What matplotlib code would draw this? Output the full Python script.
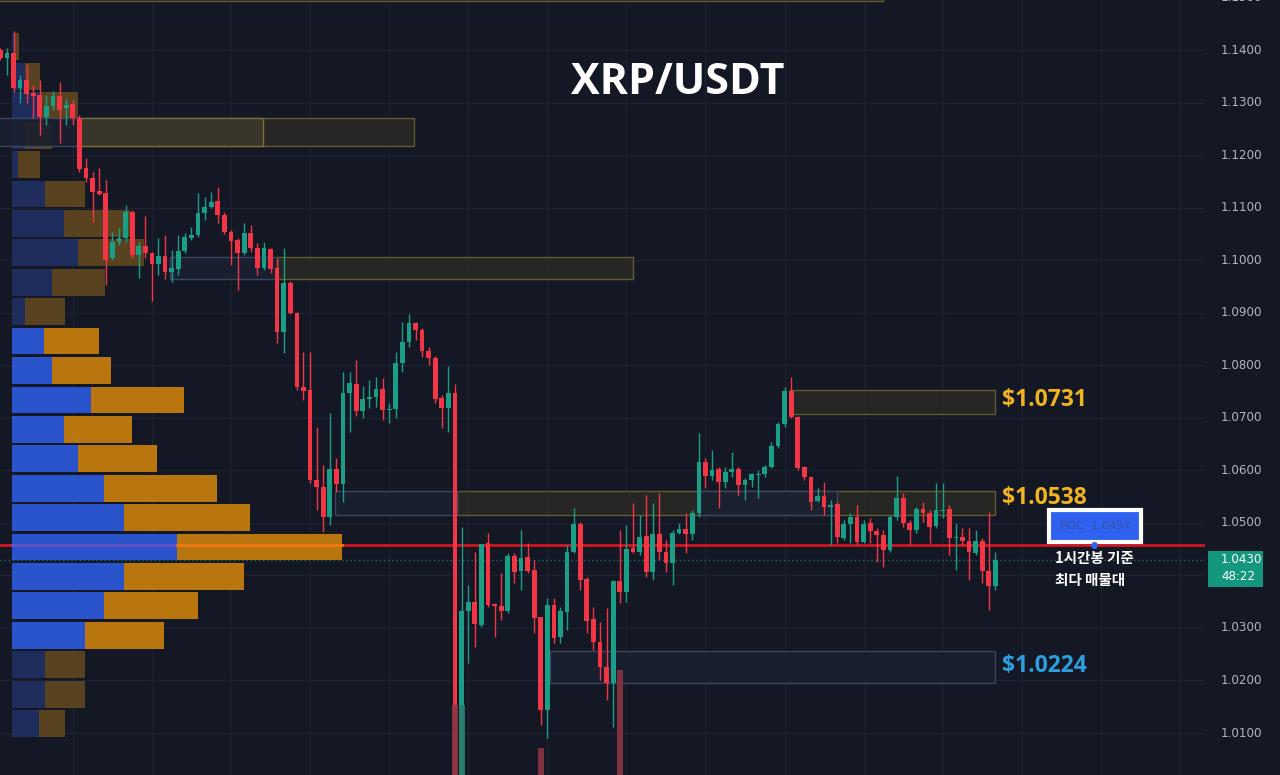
import matplotlib
matplotlib.use("Agg")
import matplotlib.pyplot as plt
import matplotlib.transforms as mtransforms
from matplotlib.patches import Rectangle

# ---------------- data ----------------
opens = [1.1400, 1.1385, 1.1394, 1.1328, 1.1343, 1.1318, 1.1314, 1.1273, 1.1293, 1.1312,
         1.1290, 1.1297, 1.1271, 1.1175, 1.1156, 1.1132, 1.1128, 1.1004, 1.1035, 1.1042,
         1.1092, 1.1010, 1.1027, 1.1014, 1.0993, 1.1008, 1.0977, 1.0983, 1.1017, 1.1042,
         1.1048, 1.1090, 1.1101, 1.1113, 1.1086, 1.1054, 1.1038, 1.1014, 1.1052, 1.1023,
         1.0985, 1.1021, 1.0985, 1.0863, 1.0957, 1.0899, 1.0759, 1.0753, 1.0582, 1.0568,
         1.0511, 1.0603, 1.0574, 1.0747, 1.0764, 1.0713, 1.0736, 1.0740, 1.0755, 1.0715,
         1.0717, 1.0804, 1.0844, 1.0880, 1.0867, 1.0827, 1.0814, 1.0738, 1.0719, 1.0747,
         0.9920, 1.0332, 1.0349, 1.0306, 1.0462, 1.0346, 1.0342, 1.0332, 1.0437, 1.0408,
         1.0435, 1.0410, 1.0321, 1.0144, 1.0344, 1.0283, 1.0330, 1.0445, 1.0498, 1.0393,
         1.0317, 1.0273, 1.0226, 1.0195, 1.0389, 1.0368, 1.0452, 1.0445, 1.0475, 1.0406,
         1.0479, 1.0445, 1.0424, 1.0481, 1.0488, 1.0479, 1.0519, 1.0616, 1.0589, 1.0603,
         1.0578, 1.0597, 1.0603, 1.0572, 1.0582, 1.0591, 1.0593, 1.0606, 1.0646, 1.0688,
         1.0751, 1.0702, 1.0606, 1.0587, 1.0542, 1.0551, 1.0530, 1.0536, 1.0471, 1.0498,
         1.0511, 1.0464, 1.0500, 1.0485, 1.0477, 1.0448, 1.0511, 1.0547, 1.0500, 1.0486,
         1.0526, 1.0519, 1.0494, 1.0523, 1.0526, 1.0471, 1.0473, 1.0465, 1.0443, 1.0465,
         1.0408, 1.0380]
highs = [1.1404, 1.1404, 1.1436, 1.1352, 1.1373, 1.1333, 1.1343, 1.1314, 1.1322, 1.1339,
         1.1307, 1.1305, 1.1276, 1.1194, 1.1168, 1.1175, 1.1153, 1.1054, 1.1061, 1.1105,
         1.1096, 1.1035, 1.1084, 1.1016, 1.1042, 1.1048, 1.1019, 1.1048, 1.1052, 1.1063,
         1.1128, 1.1120, 1.1130, 1.1139, 1.1092, 1.1057, 1.1042, 1.1071, 1.1067, 1.1033,
         1.1035, 1.1023, 1.1004, 1.1023, 1.0960, 1.0901, 1.0825, 1.0825, 1.0682, 1.0610,
         1.0709, 1.0624, 1.0787, 1.0787, 1.0810, 1.0761, 1.0772, 1.0778, 1.0776, 1.0728,
         1.0825, 1.0882, 1.0898, 1.0882, 1.0871, 1.0835, 1.0818, 1.0743, 1.0799, 1.0764,
         1.0492, 1.0382, 1.0445, 1.0460, 1.0481, 1.0348, 1.0405, 1.0443, 1.0443, 1.0486,
         1.0462, 1.0429, 1.0321, 1.0357, 1.0357, 1.0340, 1.0458, 1.0528, 1.0502, 1.0397,
         1.0340, 1.0311, 1.0338, 1.0391, 1.0486, 1.0496, 1.0538, 1.0515, 1.0553, 1.0538,
         1.0557, 1.0467, 1.0486, 1.0500, 1.0519, 1.0524, 1.0671, 1.0624, 1.0639, 1.0606,
         1.0606, 1.0635, 1.0606, 1.0585, 1.0595, 1.0601, 1.0610, 1.0654, 1.0692, 1.0759,
         1.0778, 1.0703, 1.0608, 1.0589, 1.0566, 1.0578, 1.0544, 1.0540, 1.0505, 1.0519,
         1.0534, 1.0505, 1.0509, 1.0490, 1.0486, 1.0515, 1.0589, 1.0557, 1.0505, 1.0530,
         1.0540, 1.0524, 1.0576, 1.0576, 1.0534, 1.0500, 1.0490, 1.0490, 1.0486, 1.0471,
         1.0521, 1.0445]
lows = [1.1381, 1.1352, 1.1320, 1.1299, 1.1299, 1.1271, 1.1238, 1.1257, 1.1286, 1.1223,
        1.1257, 1.1257, 1.1168, 1.1149, 1.1073, 1.1124, 1.0953, 1.1000, 1.1029, 1.1035,
        1.1004, 1.0966, 1.1004, 1.0922, 1.0972, 1.0964, 1.0958, 1.0972, 1.1014, 1.1038,
        1.1044, 1.1076, 1.1099, 1.1071, 1.1050, 1.0991, 1.0943, 1.1010, 1.1016, 1.0972,
        1.0981, 1.0976, 1.0842, 1.0823, 1.0898, 1.0753, 1.0734, 1.0576, 1.0524, 1.0483,
        1.0496, 1.0559, 1.0540, 1.0673, 1.0703, 1.0700, 1.0719, 1.0721, 1.0696, 1.0690,
        1.0700, 1.0787, 1.0835, 1.0848, 1.0816, 1.0800, 1.0728, 1.0681, 1.0673, 0.9850,
        0.9850, 1.0233, 1.0264, 1.0302, 1.0340, 1.0283, 1.0315, 1.0328, 1.0386, 1.0372,
        1.0405, 1.0290, 1.0115, 1.0091, 1.0271, 1.0271, 1.0296, 1.0443, 1.0372, 1.0290,
        1.0258, 1.0201, 1.0163, 1.0111, 1.0348, 1.0349, 1.0443, 1.0439, 1.0397, 1.0391,
        1.0429, 1.0406, 1.0382, 1.0479, 1.0443, 1.0467, 1.0511, 1.0566, 1.0582, 1.0528,
        1.0566, 1.0587, 1.0553, 1.0544, 1.0568, 1.0547, 1.0587, 1.0604, 1.0643, 1.0682,
        1.0700, 1.0601, 1.0582, 1.0524, 1.0540, 1.0515, 1.0458, 1.0462, 1.0467, 1.0462,
        1.0458, 1.0462, 1.0462, 1.0426, 1.0416, 1.0445, 1.0505, 1.0492, 1.0458, 1.0481,
        1.0502, 1.0462, 1.0490, 1.0509, 1.0439, 1.0410, 1.0458, 1.0391, 1.0439, 1.0386,
        1.0334, 1.0372]
closes = [1.1385, 1.1394, 1.1328, 1.1343, 1.1316, 1.1312, 1.1273, 1.1293, 1.1312, 1.1286,
          1.1295, 1.1271, 1.1174, 1.1156, 1.1130, 1.1126, 1.1000, 1.1035, 1.1042, 1.1092,
          1.1010, 1.1027, 1.1014, 1.0993, 1.1008, 1.0977, 1.0985, 1.1017, 1.1044, 1.1048,
          1.1090, 1.1101, 1.1111, 1.1086, 1.1054, 1.1036, 1.1014, 1.1052, 1.1023, 1.0985,
          1.1023, 1.0983, 1.0863, 1.0957, 1.0899, 1.0759, 1.0751, 1.0582, 1.0568, 1.0511,
          1.0603, 1.0574, 1.0747, 1.0766, 1.0713, 1.0736, 1.0740, 1.0755, 1.0715, 1.0717,
          1.0804, 1.0844, 1.0880, 1.0867, 1.0827, 1.0814, 1.0736, 1.0719, 1.0747, 0.9920,
          1.0332, 1.0349, 1.0308, 1.0460, 1.0344, 1.0342, 1.0332, 1.0437, 1.0406, 1.0433,
          1.0408, 1.0319, 1.0144, 1.0344, 1.0281, 1.0332, 1.0445, 1.0498, 1.0391, 1.0313,
          1.0273, 1.0226, 1.0195, 1.0389, 1.0368, 1.0450, 1.0445, 1.0473, 1.0406, 1.0479,
          1.0445, 1.0424, 1.0481, 1.0488, 1.0479, 1.0519, 1.0616, 1.0589, 1.0601, 1.0578,
          1.0597, 1.0603, 1.0572, 1.0582, 1.0593, 1.0593, 1.0606, 1.0646, 1.0688, 1.0751,
          1.0702, 1.0604, 1.0587, 1.0540, 1.0551, 1.0530, 1.0534, 1.0473, 1.0498, 1.0511,
          1.0464, 1.0498, 1.0485, 1.0477, 1.0448, 1.0511, 1.0547, 1.0500, 1.0486, 1.0526,
          1.0519, 1.0492, 1.0524, 1.0524, 1.0471, 1.0473, 1.0465, 1.0445, 1.0465, 1.0408,
          1.0380, 1.0430]

# visible volume spikes (others hidden below the pane)
vol_index = [69, 70, 82, 94]
vol_value = [9.0, 9.0, 3.5, 13.5]
vol_up = [False, True, False, False]

# volume profile rows (price centre, up volume, down volume)
vp_price = [1.0118, 1.0174, 1.0230, 1.0286, 1.0342, 1.0398, 1.0454, 1.0510, 1.0566, 1.0622,
            1.0678, 1.0734, 1.0790, 1.0846, 1.0902, 1.0958, 1.1014, 1.1070, 1.1126, 1.1182,
            1.1238, 1.1294, 1.1350, 1.1406]
vp_up = [27, 33, 33, 73, 92, 112, 165, 112, 92, 66, 52, 79, 40, 32, 13, 40, 66, 52, 33, 6,
         13, 28, 13, 2]
vp_down = [26, 40, 40, 79, 94, 120, 165, 126, 113, 79, 68, 93, 59, 55, 40, 53, 66, 66, 40, 22,
           27, 38, 15, 5]
va_low, va_high = 3, 13

poc_price = 1.0457
last_price = 1.0430
countdown = "48:22"

price_ticks = [1.01, 1.02, 1.03, 1.04, 1.05, 1.06, 1.07, 1.08, 1.09, 1.10, 1.11, 1.12, 1.13, 1.14, 1.15]

# zones: (start candle, end candle, low, high)
zones_yellow = [(-1, 134, 1.1494, 1.1700), (11.8, 62.8, 1.1218, 1.1271), (42, 96, 1.0964, 1.1006),
                (69.3, 151, 1.0515, 1.0561), (119.8, 151, 1.0707, 1.0753)]
zones_yellow_strong = [(11.8, 39.9, 1.1218, 1.1271)]
zones_blue = [(-1, 11.8, 1.1218, 1.1271), (25.8, 42, 1.0964, 1.1006), (50.8, 69.3, 1.0515, 1.0561),
              (106.2, 127, 1.0515, 1.0561), (83.4, 151, 1.0195, 1.0256)]
level_labels = ["$1.0731", "$1.0538", "$1.0224"]
level_prices = [1.0731, 1.0538, 1.0224]
level_colors = ["#f2b41c", "#f2b41c", "#2b9fe0"]
level_label_shift = [0.0003, 0.0010, 0.0004]

# ---------------- style ----------------
BG = "#141824"
UP = "#1a9f86"
DN = "#f23645"
GRID = "#1e2230"

fig = plt.figure(figsize=(12.8, 7.75), dpi=100, facecolor=BG)
rect = [0, 0, 1205 / 1280, 1]
ax_bg = fig.add_axes(rect)
ax_vp = fig.add_axes(rect, sharey=ax_bg)
ax = fig.add_axes(rect, sharex=ax_bg, sharey=ax_bg)
ax_vol = fig.add_axes(rect, sharex=ax_bg)

for a, z in ((ax_bg, 0), (ax_vp, 1), (ax, 2), (ax_vol, 3)):
    a.set_zorder(z)
    for s in a.spines.values():
        s.set_visible(False)
    a.tick_params(left=False, bottom=False, labelleft=False, labelbottom=False,
                  right=False, labelright=False)
ax_bg.set_facecolor(BG)
for a in (ax_vp, ax, ax_vol):
    a.set_facecolor("none")

ax_bg.set_xlim(-0.05, 182.8)
ax_bg.set_ylim(1.00201, 1.14952)
ax_vp.set_xlim(-12, 1193)
ax_vol.set_ylim(0, 100)

# grid
for p in price_ticks:
    ax_bg.axhline(p, color=GRID, lw=1, zorder=0)
for gx in range(11, 183, 12):
    ax_bg.axvline(gx, color=GRID, lw=1, zorder=0)

# POC line and last-price dotted line
ax_bg.axhline(poc_price, color="#d4141e", lw=2, zorder=2)
ax_bg.axhline(last_price, color="#1f6e62", lw=1, ls=(0, (1, 2)), zorder=2)

# volume profile
up_cols, dn_cols = [], []
for k in range(len(vp_price)):
    if va_low <= k <= va_high:
        up_cols.append("#2a54cc"); dn_cols.append("#b9760f")
    else:
        up_cols.append("#1e2d5c"); dn_cols.append("#584220")
ax_vp.barh(vp_price, vp_up, height=0.0051, left=0, color=up_cols, linewidth=0)
ax_vp.barh(vp_price, vp_down, height=0.0051, left=vp_up, color=dn_cols, linewidth=0)
poc_row = vp_price.index(1.0454)
ax_vp.plot([0, vp_up[poc_row]], [poc_price, poc_price], color="#6d4fc6", lw=2)
ax_vp.plot([vp_up[poc_row], vp_up[poc_row] + vp_down[poc_row]], [poc_price, poc_price],
           color="#f2780f", lw=2)

# zones
for x0, x1, lo, hi in zones_yellow:
    ax.add_patch(Rectangle((x0, lo), x1 - x0, hi - lo, facecolor="#2a2a24", edgecolor="#6e6533",
                           lw=1, alpha=0.85, zorder=1))
for x0, x1, lo, hi in zones_yellow_strong:
    ax.add_patch(Rectangle((x0, lo), x1 - x0, hi - lo, facecolor="#38352a", edgecolor="#7a6f37",
                           lw=1, zorder=1.1))
for x0, x1, lo, hi in zones_blue:
    ax.add_patch(Rectangle((x0, lo), x1 - x0, hi - lo, facecolor="#1a2030", edgecolor="#3c4a68",
                           lw=1, alpha=0.9, zorder=1.2))

# candles
n = len(opens)
idx = list(range(n))
cols = [UP if closes[i] >= opens[i] else DN for i in idx]
ax.vlines(idx, lows, highs, colors=cols, lw=1, zorder=3)
bottoms = [min(opens[i], closes[i]) for i in idx]
heights = [max(abs(closes[i] - opens[i]), 0.00022) for i in idx]
ax.bar(idx, heights, bottom=bottoms, width=0.72, color=cols, linewidth=0, zorder=4)

# volume spikes
ax_vol.bar(vol_index, vol_value, width=0.9,
           color=["#2a7a6c" if u else "#8a3440" for u in vol_up], linewidth=0, alpha=0.9)

# price axis labels (the one under the live price tag is hidden, as in TradingView)
trans_r = mtransforms.blended_transform_factory(ax.transAxes, ax.transData)
for p in price_ticks:
    if abs(p - last_price) < 0.005:
        continue
    ax.text(1221 / 1205, p, f"{p:.4f}", transform=trans_r, ha="left", va="center",
            color="#b2b5be", fontsize=8.6, clip_on=False)

# current price tag
ax.add_patch(Rectangle((1208 / 1205, last_price - 0.0052), 55 / 1205, 0.0069, transform=trans_r,
                       facecolor="#13977d", edgecolor="none", clip_on=False, zorder=6))
ax.text(1221 / 1205, last_price, f"{last_price:.4f}", transform=trans_r, ha="left", va="center",
        color="white", fontsize=8.6, zorder=7, clip_on=False)
ax.text(1221 / 1205, last_price - 0.0033, countdown, transform=trans_r, ha="left", va="center",
        color="white", fontsize=8.6, zorder=7, clip_on=False)

# level labels
for lab, p, c, s in zip(level_labels, level_prices, level_colors, level_label_shift):
    ax.text(152, p + s, lab, ha="left", va="center", color=c, fontsize=16.5,
            fontweight="bold", family="Open Sans", zorder=6, clip_on=False)

# POC annotation box
ax.add_patch(Rectangle((159.1, 1.0464), 14.0, 0.0060, facecolor="#2f62f0", edgecolor="white",
                       lw=3, zorder=6))
ax.text(166.1, 1.0494, f"POC: {poc_price:.4f}", ha="center", va="center", color="#3b4f9e",
        fontsize=8.2, zorder=7)
ax.plot([166], [poc_price], marker="o", ms=4, color="#2f62f0", zorder=7)
ax.text(160, 1.0412, "1시간봉 기준\n최다 매물대", ha="left", va="center", color="white",
        fontsize=10.5, fontweight="bold", family=["Noto Sans CJK KR", "DejaVu Sans"],
        linespacing=1.45, zorder=7)

# title
fig.text(678 / 1280, 1 - 82 / 775, "XRP/USDT", ha="center", va="center", color="white",
         fontsize=31, fontweight="bold", family="Open Sans")

fig.savefig("out.png", dpi=100, facecolor=BG)
